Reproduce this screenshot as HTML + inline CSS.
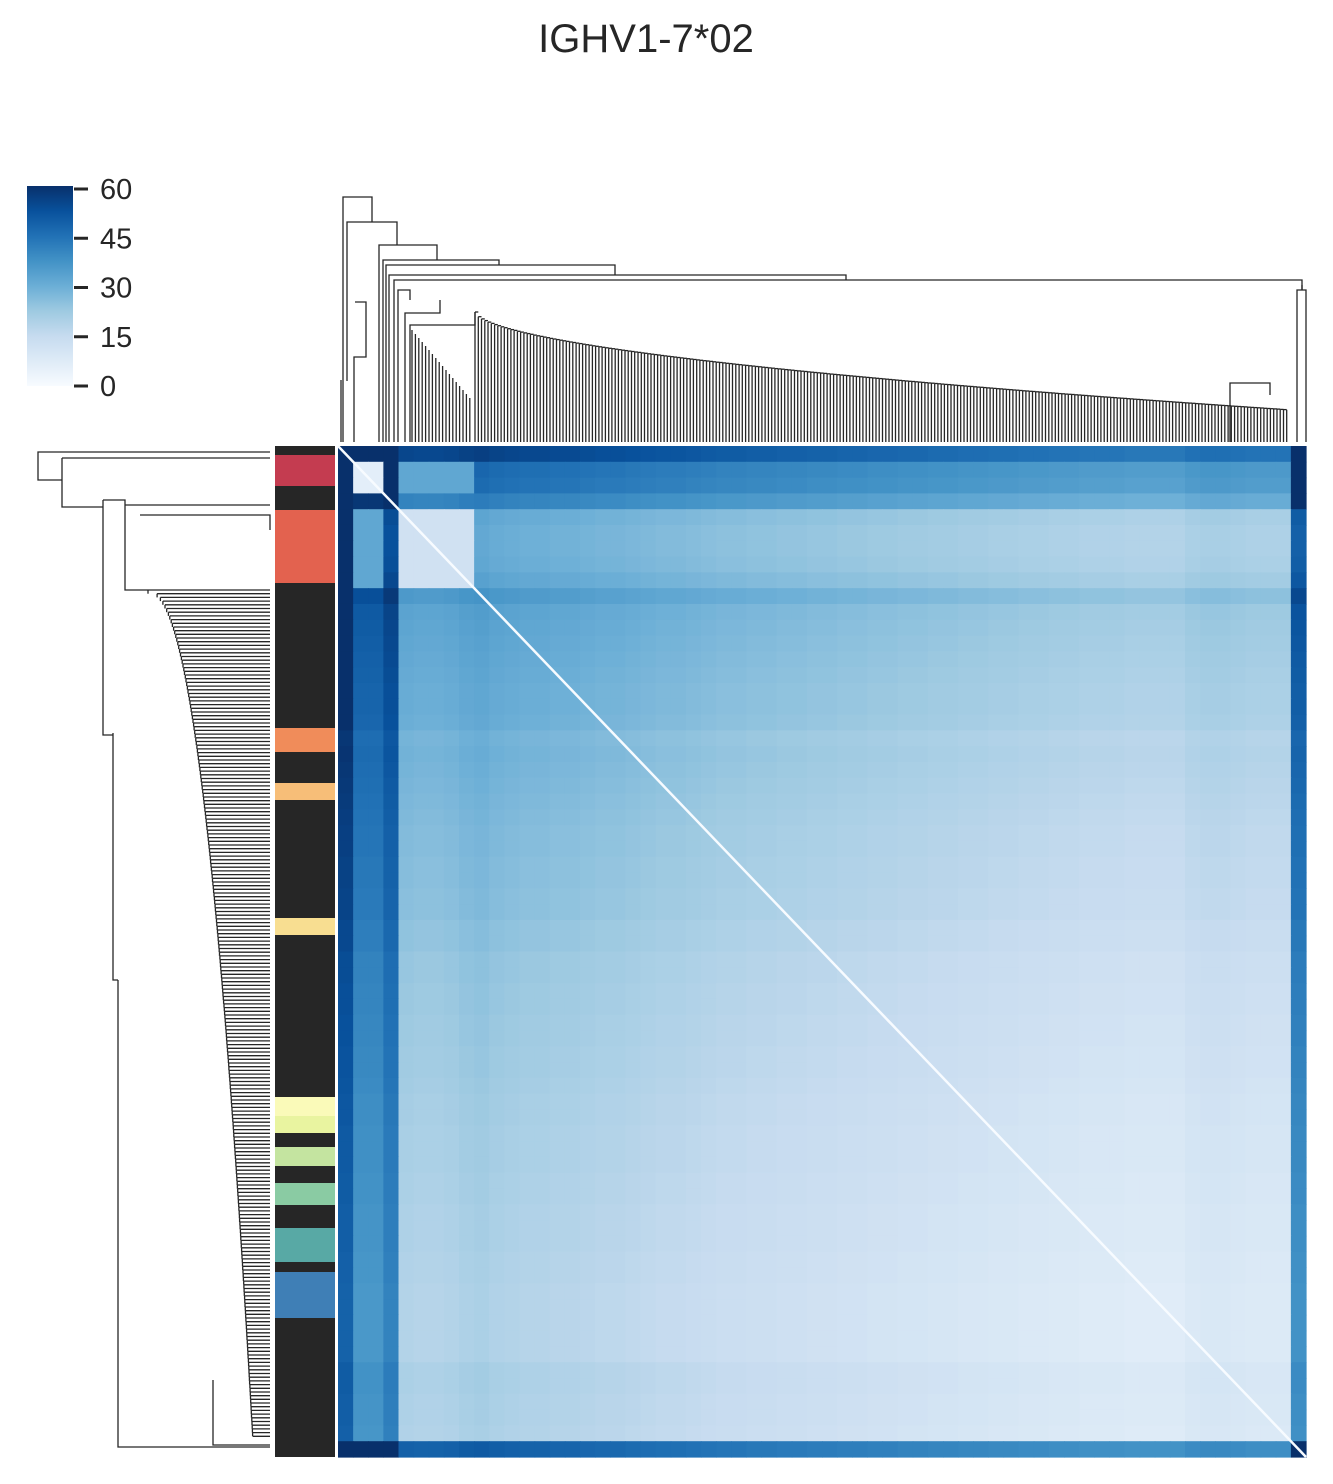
<!DOCTYPE html>
<html><head><meta charset="utf-8"><style>
html,body{margin:0;padding:0;background:#fff;}
svg{display:block;font-family:"Liberation Sans","DejaVu Sans",sans-serif;}
</style></head><body>
<svg id="chart" width="1333" height="1484" viewBox="0 0 1333 1484">
<defs><linearGradient id="cbg" x1="0" y1="1" x2="0" y2="0">
<stop offset="0" stop-color="#f7fbff"/><stop offset="0.125" stop-color="#deebf7"/><stop offset="0.25" stop-color="#c6dbef"/><stop offset="0.375" stop-color="#9ecae1"/><stop offset="0.5" stop-color="#6baed6"/><stop offset="0.625" stop-color="#4292c6"/><stop offset="0.75" stop-color="#2171b5"/><stop offset="0.875" stop-color="#08519c"/><stop offset="1" stop-color="#08306b"/></linearGradient></defs>
<text x="646" y="52" text-anchor="middle" font-size="40" fill="#262626">IGHV1-7*02</text>
<g id="colorbar">
<rect x="27" y="186" width="46" height="200" fill="url(#cbg)"/>
</g>
<g id="topdend" fill="none" stroke="#262626" stroke-width="1.3"></g>
<g id="leftdend" fill="none" stroke="#262626" stroke-width="1.3"></g>
<g id="rowcolors"></g>
<g id="heat"></g>
</svg>
<script>
const cbTicks=[0,15,30,45,60];
const rowVals=[80,62,60,52,32,30,30,31,34,41,36,35,34,33,32,31,31,30,27,28,27,26,25,24,23,23,22,22,21,21,19,19,17,17,16,16,15,15,14,14,13,12,12,11,11,11,10,10,9,9,9,8,8,7,7,7,7,7,10,10,9,9,8,68];
const colVals=[90,65,65,75,30,29,29,30,32,33,31,30,29,29,28,28,27,26,26,25,24,23,23,22,21,20,20,19,19,18,18,17,17,16,16,15,15,14,14,13,13,12,12,11,11,10,10,9,9,8,8,8,7,7,7,7,10,11,11,10,9,9,9,68];
const blocks=[[1,2,1,2,6],[4,8,4,8,12],[1,2,4,8,32],[4,8,1,2,32]];
const rowColorLabels=[["#262626",446,455],["#c43c50",455,486],["#262626",486,510],["#e3624f",510,583],["#262626",583,728],["#f08c5a",728,752],["#262626",752,783],["#f7be78",783,800],["#262626",800,918],["#f8de91",918,935],["#262626",935,1097],["#fafab9",1097,1116],["#e9f4a0",1116,1133],["#262626",1133,1147],["#c4e4a0",1147,1166],["#262626",1166,1183],["#8acba3",1183,1205],["#262626",1205,1228],["#58a9a5",1228,1262],["#262626",1262,1272],["#3f7fb6",1272,1318],["#262626",1318,1457]];
const NS="http://www.w3.org/2000/svg";
function mk(t,a,p){const e=document.createElementNS(NS,t);for(const k in a)e.setAttribute(k,a[k]);p.appendChild(e);return e;}
const stops=[[247,251,255],[222,235,247],[198,219,239],[158,202,225],[107,174,214],[66,146,198],[33,113,181],[8,81,156],[8,48,107]];
function blues(v){let t=Math.max(0,Math.min(1,v/60))*8;let i=Math.min(7,Math.floor(t)),f=t-i;const a=stops[i],b=stops[i+1];return `rgb(${a.map((x,k)=>Math.round(x+(b[k]-x)*f)).join(',')})`;}
const cb=document.getElementById('colorbar');
cbTicks.forEach(v=>{const y=386-v/60*197;
const l=mk('line',{x1:74,x2:88,y1:y,y2:y,stroke:'#262626','stroke-width':3},cb);

const t=mk('text',{x:100,y:y+10,'font-size':29,fill:'#262626'},cb);t.textContent=v;
});
const H=document.getElementById('heat');
const X0=338,Y0=446,W=968,HH=1011;
const nr=rowVals.length,nc=colVals.length,cw=W/nc,rh=HH/nr;
for(let i=0;i<nr;i++)for(let j=0;j<nc;j++){
let v=(rowVals[i]+colVals[j])/2;
blocks.forEach(b=>{if(i>=b[0]&&i<=b[1]&&j>=b[2]&&j<=b[3])v=b[4];});
const r=mk('rect',{x:(X0+j*cw).toFixed(2),y:(Y0+i*rh).toFixed(2),width:(cw+0.6).toFixed(2),height:(rh+0.6).toFixed(2),fill:blues(v)},H);
}
const dg=mk('line',{x1:X0,y1:Y0,x2:X0+W,y2:Y0+HH,stroke:'#f7fbff','stroke-width':2.5},H);

const RC=document.getElementById('rowcolors');
rowColorLabels.forEach(s=>{const r=mk('rect',{x:275,y:s[1],width:60,height:s[2]-s[1],fill:s[0]},RC);
});
const TD=document.getElementById('topdend');
function p(d,g){const e=mk('path',{d:d},g);}
const B=442;
p(`M343 ${B}V197H372V222`,TD);p(`M347 381V222H397V245`,TD);
p(`M341 ${B}V380M354 ${B}V357H366V302H355`,TD);
p(`M379 ${B}V245H437V260`,TD);p(`M383 ${B}V260H499V265`,TD);p(`M386 ${B}V265H615V275`,TD);p(`M389 ${B}V275H846V280`,TD);
p(`M394 ${B}V280H1302V290`,TD);p(`M1297 ${B}V290H1306V${B}`,TD);p(`M1302 290V285`,TD);
p(`M398 ${B}V290H410V300`,TD);p(`M405 ${B}V313H440V300`,TD);p(`M410 ${B}V325H475V312`,TD);
for(let k=0;k<18;k++){const x=412+k*3.4;p(`M${x} ${B}V${330+k*4}`,TD);}
const nT=250;
for(let k=0;k<nT;k++){const x=475+k*(1290-475)/nT;const y=312+98*Math.pow(k/nT,0.55);
p(`M${x.toFixed(1)} ${B}V${y.toFixed(1)}`,TD);
if(k<nT-1){const x2=475+(k+1)*(1290-475)/nT;p(`M${x.toFixed(1)} ${y.toFixed(1)}H${x2.toFixed(1)}`,TD);}}
p(`M1230 ${B}V383H1270V395`,TD);
const LD=document.getElementById('leftdend');const R=270;
p(`M${R} 452H38V480H62`,LD);p(`M62 458H${R}M62 458V507H103`,LD);
p(`M103 500V735H113`,LD);p(`M113 733V980H118`,LD);p(`M118 980V1447H${R}`,LD);
p(`M103 500H125V590H148`,LD);p(`M125 505H${R}M140 515H${R}V530`,LD);
const nL=230;
for(let k=0;k<nL;k++){const y=590+k*(1440-590)/nL;const x=148+105*Math.pow(k/nL,0.45);
p(`M${x.toFixed(1)} ${y.toFixed(1)}H${R}`,LD);
if(k<nL-1){const y2=590+(k+1)*(1440-590)/nL;p(`M${x.toFixed(1)} ${y.toFixed(1)}V${y2.toFixed(1)}`,LD);}}
p(`M213 1380V1445H${R}`,LD);
</script>
</body></html>
